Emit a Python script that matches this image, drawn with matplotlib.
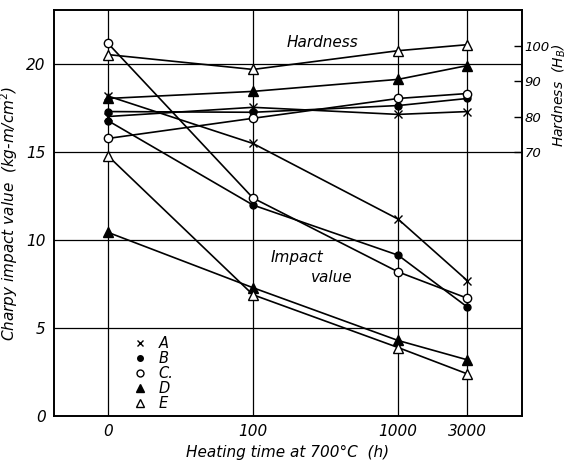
import numpy as np
import matplotlib
matplotlib.use("Agg")
import matplotlib.pyplot as plt
from matplotlib.lines import Line2D

# Data
times = [0, 100, 1000, 3000]
time_labels = ["0", "100", "1000", "3000"]
steels = ["A", "B", "C.", "D", "E"]

impact_A = [18.2, 15.5, 11.2, 7.7]
impact_B = [16.8, 12.0, 9.15, 6.2]
impact_C = [21.2, 12.4, 8.2, 6.7]
impact_D = [10.45, 7.3, 4.3, 3.2]
impact_E = [14.8, 6.9, 3.9, 2.4]

hard_A = [80.1, 82.7, 80.7, 81.5]
hard_B = [81.5, 81.3, 83.2, 85.2]
hard_C = [73.9, 79.6, 85.2, 86.6]
hard_D = [85.2, 87.2, 90.6, 94.5]
hard_E = [97.6, 93.4, 98.7, 100.4]

impact = [impact_A, impact_B, impact_C, impact_D, impact_E]
hardness = [hard_A, hard_B, hard_C, hard_D, hard_E]

left_ticks = [0, 5, 10, 15, 20]
right_ticks = [70, 80, 90, 100]

styles = [
    dict(marker="x", mfc="black", ms=6, mew=1.0),
    dict(marker="o", mfc="black", ms=5, mew=1.0),
    dict(marker="o", mfc="white", ms=6, mew=1.0),
    dict(marker="^", mfc="black", ms=7, mew=1.0),
    dict(marker="^", mfc="white", ms=7, mew=1.0),
]

# x scale: logarithmic, with 0 h placed one decade before 100 h
xpos = np.log10(np.maximum(np.array(times, dtype=float), 10.0))

plt.rcParams["font.family"] = ["DejaVu Sans"]
fig = plt.figure(figsize=(5.67, 4.66), dpi=100)
ax = fig.add_axes([0.095, 0.107, 0.826, 0.872])
ax2 = ax.twinx()

ax.set_xlim(0.628, 3.855)
ax.set_ylim(0, 23.1)
ax2.set_ylim(70 - 15 * 4.97, 70 + 8.1 * 4.97)

for x in xpos:
    ax.axvline(x, color="black", lw=0.9, zorder=1)
for y in left_ticks[1:]:
    ax.axhline(y, color="black", lw=0.9, zorder=1)

for vals, st in zip(impact, styles):
    ax.plot(xpos, vals, color="black", lw=1.2, mec="black", zorder=3, **st)
for vals, st in zip(hardness, styles):
    ax2.plot(xpos, vals, color="black", lw=1.2, mec="black", zorder=3, **st)

tfont = dict(style="italic", fontsize=11)
ax.set_xticks(xpos)
ax.set_xticklabels(time_labels, **tfont)
ax.set_yticks(left_ticks)
ax.set_yticklabels([str(v) for v in left_ticks], **tfont)
ax.tick_params(axis="both", length=0, pad=6)
ax2.set_yticks(right_ticks)
ax2.set_yticklabels([str(v) for v in right_ticks], style="italic", fontsize=9.5)
ax2.tick_params(axis="y", direction="in", length=6, width=1, pad=1.5)

for a in (ax, ax2):
    for s in a.spines.values():
        s.set_linewidth(1.2)

ax.set_xlabel("Heating time at 700°C  (h)", style="italic", fontsize=11, labelpad=4)
ax.set_ylabel("Charpy impact value  (kg-m/cm$^2$)", style="italic", fontsize=11, labelpad=4)
ax2.set_ylabel("Hardness  (H$_B$)", style="italic", fontsize=10, va="center")
ax2.yaxis.set_label_coords(1.079, 0.79)

ax.text(2.48, 21.25, "Hardness", style="italic", fontsize=11, ha="center", va="center")
ax.text(2.30, 9.0, "Impact", style="italic", fontsize=11, ha="center", va="center")
ax.text(2.54, 7.9, "value", style="italic", fontsize=11, ha="center", va="center")

handles = [Line2D([], [], color="black", ls="none", mec="black", **{**st, "ms": st["ms"] - 1})
           for st in styles]
leg = ax.legend(handles, steels, loc="lower left", bbox_to_anchor=(0.143, -0.02),
                frameon=False, handlelength=0.8, handletextpad=0.9,
                labelspacing=0.0, prop=dict(style="italic", size=10.5))

fig.savefig("out.png", dpi=100)
